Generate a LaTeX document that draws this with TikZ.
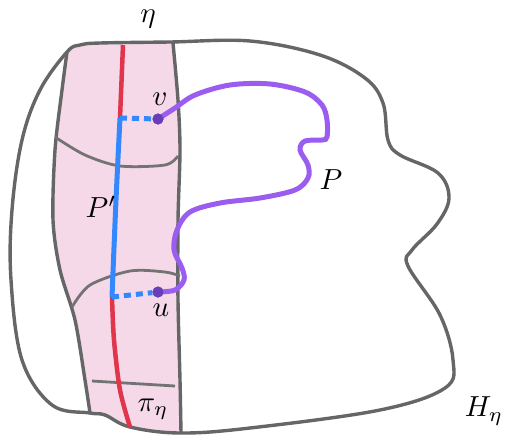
\documentclass[tikz,border=0pt]{standalone}
\newcommand\biglab[1]{\scalebox{2.9}{$#1$}}
\begin{document}
\begin{tikzpicture}[x=1pt,y=-1pt,
  outline/.style={draw=black!60, line width=3.4pt, line join=round},
  thin/.style={draw=black!55, line width=2.8pt},
  lab/.style={inner sep=0pt},
  dotnode/.style={circle, fill=dotc, inner sep=0pt, minimum size=11pt}]
\definecolor{pinkc}{HTML}{F5D9E8}
\definecolor{redc}{HTML}{E0354A}
\definecolor{bluec}{HTML}{3388FF}
\definecolor{purc}{HTML}{9B5CF0}
\definecolor{dotc}{HTML}{6A3DB8}
\useasboundingbox (0,0) rectangle (511,445);
% pink band
\fill[pinkc] plot[smooth] coordinates {(67,52) (62,90) (55,150) (53,220) (60,270) (75,320) (85,380) (90,413)}
  -- plot[smooth] coordinates {(90,413) (105,416) (130,427) (181,433)}
  -- plot[smooth] coordinates {(181,433) (180,380) (178,300) (178,220) (180,150) (178,100) (173,43)}
  -- plot[smooth] coordinates {(173,43) (100,43) (80,45) (67,52)} -- cycle;
% outer boundary
\draw[outline] plot[smooth cycle, tension=0.6] coordinates {(67,52) (80,45) (100,43) (170,42) (250,41) (320,55) (365,78) (383,103) (388,140) (400,155) (438,173) (449,198) (437,224) (412,250) (408,266) (440,315) (453,360) (445,388) (380,410) (250,428) (180,433) (130,427) (105,415) (90,413) (52,405) (22,360) (11,280) (12,210) (22,140) (40,90)};
% band boundaries
\draw[outline] plot[smooth] coordinates {(67,52) (62,90) (55,150) (53,220) (60,270) (75,320) (85,380) (90,413)};
\draw[outline] plot[smooth] coordinates {(173,43) (178,100) (180,150) (178,220) (178,300) (180,380) (181,433)};
% cross lines
\draw[thin] plot[smooth] coordinates {(55,137) (85,155) (120,166) (165,165) (178,156)};
\draw[thin] plot[smooth] coordinates {(72,307) (90,285) (130,271) (165,272) (180,276)};
\draw[thin] (92,381) -- (175,386);
% red / blue path
\draw[redc, line width=4.5pt] (123,45) -- (120,118);
\draw[bluec, line width=5pt] plot[smooth] coordinates {(120,118) (116,200) (112,297)};
\draw[redc, line width=4.5pt] plot[smooth] coordinates {(112,297) (114,340) (120,390) (130,427)};
% dots
\node[dotnode] (v) at (158,119) {};
\node[dotnode] (u) at (158,292) {};
\coordinate (pv) at (120,118);
\coordinate (pu) at (112,297);
\draw[bluec, line width=5pt, dash pattern=on 7pt off 5pt] (pv) -- (v);
\draw[bluec, line width=5pt, dash pattern=on 7pt off 5pt] (pu) -- (u);
% purple path P
\draw[purc, line width=5pt, line cap=round] plot[smooth, tension=0.55] coordinates {(158,119) (175,108) (195,95) (230,85) (270,84) (305,92) (322,105) (327,120) (327,137) (322,140) (305,141) (300,150) (308,165) (308,178) (295,190) (260,198) (220,203) (190,212) (177,230) (174,250) (182,268) (184,280) (175,290) (158,292)};
\node[dotnode] at (v) {};
\node[dotnode] at (u) {};
% labels
\node[lab] (eta) at (148,19) {\biglab{\eta}};
\node[lab] (vl) at (160,99) {\biglab{v}};
\node[lab] (ul) at (161,310) {\biglab{u}};
\node[lab] (Pp) at (101,207) {\biglab{P'}};
\node[lab] (Pl) at (331,180) {\biglab{P}};
\node[lab] (pil) at (153,409) {\biglab{\pi_\eta}};
\node[lab] (Hl) at (484,411) {\biglab{H_\eta}};
\end{tikzpicture}
\end{document}
